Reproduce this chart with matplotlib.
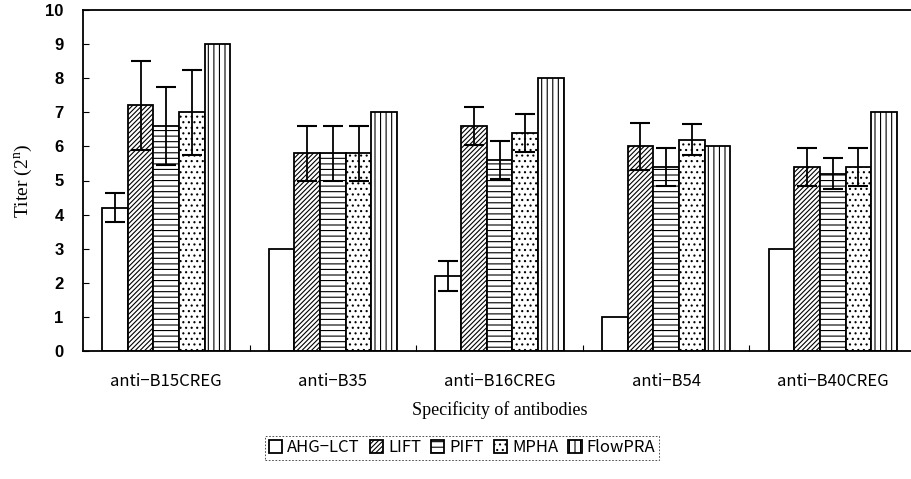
import matplotlib
matplotlib.use("Agg")
import matplotlib.pyplot as plt
import numpy as np

categories = ["anti\u2212B15CREG", "anti\u2212B35", "anti\u2212B16CREG", "anti\u2212B54", "anti\u2212B40CREG"]
series = ["AHG\u2212LCT", "LIFT", "PIFT", "MPHA", "FlowPRA"]
ahg = [4.2, 3.0, 2.2, 1.0, 3.0]
ahg_err = [0.42, np.nan, 0.45, np.nan, np.nan]
lift = [7.2, 5.8, 6.6, 6.0, 5.4]
lift_err = [1.3, 0.8, 0.55, 0.7, 0.55]
pift = [6.6, 5.8, 5.6, 5.4, 5.2]
pift_err = [1.15, 0.8, 0.55, 0.55, 0.45]
mpha = [7.0, 5.8, 6.4, 6.2, 5.4]
mpha_err = [1.25, 0.8, 0.55, 0.45, 0.55]
flow = [9.0, 7.0, 8.0, 6.0, 7.0]
yticks = list(range(0, 11))

values = [ahg, lift, pift, mpha, flow]
errors = [ahg_err, lift_err, pift_err, mpha_err, [np.nan] * 5]
hatches = [None, "///////", "---", "...", "|||"]

plt.rcParams["hatch.linewidth"] = 0.8
fig = plt.figure(figsize=(9.11, 4.79), dpi=100)
ax = fig.add_axes([83 / 911, 128 / 479, 833 / 911, 341 / 479])

x = np.arange(len(categories))
w = 0.154
for i, (name, v, e, h) in enumerate(zip(series, values, errors, hatches)):
    pos = x + (i - 2) * w
    ax.bar(pos, v, w, color="white", edgecolor="black", linewidth=1.3,
           hatch=h, label=name, zorder=2)
    ax.errorbar(pos, v, yerr=e, fmt="none", ecolor="black", elinewidth=1.3,
                capsize=7.5, capthick=1.5, zorder=3)

ax.set_xlim(-0.5, len(categories) - 0.5)
ax.set_ylim(0, 10)
ax.set_yticks(yticks)
ax.set_yticklabels([str(t) for t in yticks], fontsize=12, fontweight="bold",
                   family=["Liberation Sans"])
ax.set_xticks(x)
ax.set_xticklabels(categories, fontsize=12, family=["Noto Sans CJK JP", "DejaVu Sans"])
ax.tick_params(axis="x", length=0, pad=16)
ax.set_xticks(np.arange(0.5, len(categories) - 0.5, 1), minor=True)
ax.tick_params(axis="x", which="minor", direction="in", length=4, width=0.8)
ax.tick_params(axis="y", direction="in", length=4, width=0.8, pad=14)
for s in ax.spines.values():
    s.set_linewidth(1.3)

ax.set_xlabel("Specificity of antibodies", fontsize=13, family=["Liberation Serif"], labelpad=8)
ax.set_ylabel("Titer (2$^{\\mathregular{n}}$)", fontsize=14, family=["Liberation Serif"], labelpad=7)

leg = fig.legend(loc="center", bbox_to_anchor=(462 / 911, 1 - 448 / 479), ncol=5,
                 frameon=True, fancybox=False, edgecolor="black",
                 prop={"family": ["Noto Sans CJK JP", "DejaVu Sans"], "size": 12},
                 handlelength=0.8, handleheight=0.8, handletextpad=0.3,
                 columnspacing=0.6, borderpad=0.2, borderaxespad=0)
leg.get_frame().set_linestyle((0, (2, 2)))
leg.get_frame().set_linewidth(0.6)

fig.savefig("out.png", dpi=100, facecolor="white")
